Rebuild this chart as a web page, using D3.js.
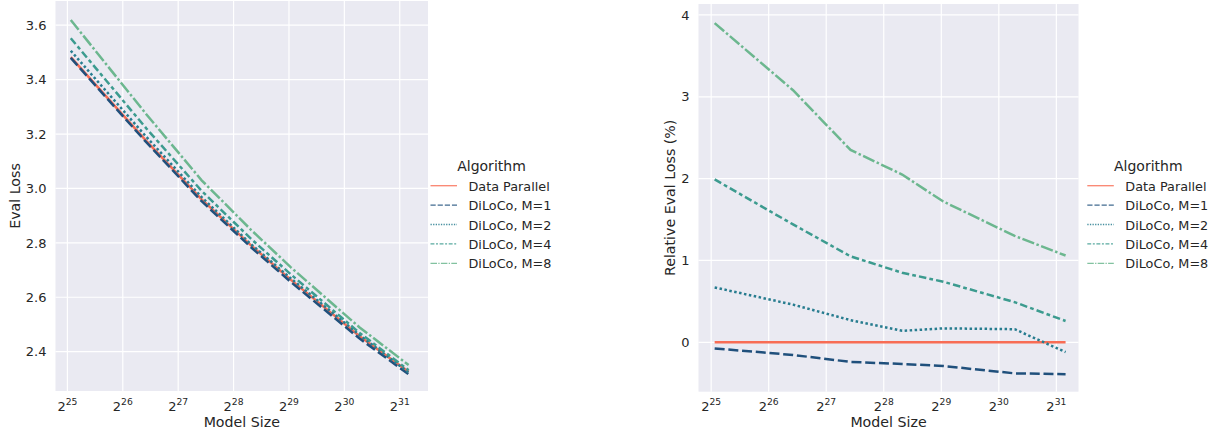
<!DOCTYPE html>
<html>
<head>
<meta charset="utf-8">
<script src="https://cdn.jsdelivr.net/npm/d3@7"></script>
<style>
  body { margin: 0; background: #fff; }
  svg { display: block; font-family: "DejaVu Sans", sans-serif; }
</style>
</head>
<body>
<svg id="chart" width="1215" height="431"></svg>
<script>
// data
const modelSizes = [35e6, 90e6, 180e6, 335e6, 550e6, 1.3e9, 2.4e9];
const seriesNames = ["Data Parallel", "DiLoCo, M=1", "DiLoCo, M=2", "DiLoCo, M=4", "DiLoCo, M=8"];

// left panel: eval loss
const lossDP = [3.483, 3.175, 2.960, 2.790, 2.664, 2.457, 2.326];
const lossM1 = [3.480, 3.170, 2.953, 2.783, 2.656, 2.448, 2.317];
const lossM2 = [3.506, 3.190, 2.968, 2.794, 2.669, 2.461, 2.323];
const lossM4 = [3.552, 3.221, 2.991, 2.814, 2.684, 2.469, 2.332];
const lossM8 = [3.619, 3.273, 3.030, 2.847, 2.710, 2.489, 2.351];

// right panel: relative eval loss (%)
const relDP = [0, 0, 0, 0, 0, 0, 0];
const relM1 = [-0.075, -0.155, -0.24, -0.265, -0.29, -0.38, -0.39];
const relM2 = [0.67, 0.46, 0.27, 0.14, 0.17, 0.16, -0.12];
const relM4 = [1.99, 1.44, 1.05, 0.85, 0.74, 0.49, 0.26];
const relM8 = [3.90, 3.08, 2.35, 2.05, 1.72, 1.30, 1.06];

const xTicks = [25, 26, 27, 28, 29, 30, 31];
const leftYTicks = [2.4, 2.6, 2.8, 3.0, 3.2, 3.4, 3.6];
const rightYTicks = [0, 1, 2, 3, 4];

// styles
const colors = ["#f86d55", "#20507c", "#277c8f", "#3c9b8f", "#6cb78f"];
const dashes = [null, [4, 1.5], [1, 1], [3, 1.25, 1.5, 1.25], [5, 1, 1, 1]];
const lw = 2.5;
const textColor = "#262626";

const svg = d3.select("#chart");

function panel(opts) {
  const { x0, x1, y0, y1, xDomain, yDomain, yTicks, yFmt, yLabel, series, legendX } = opts;

  const x = d3.scaleLog().base(2).domain(xDomain.map(d => Math.pow(2, d))).range([x0, x1]);
  const y = d3.scaleLinear().domain(yDomain).range([y1, y0]);

  const g = svg.append("g");

  g.append("rect")
    .attr("x", x0).attr("y", y0)
    .attr("width", x1 - x0).attr("height", y1 - y0)
    .attr("fill", "#eaeaf2");

  // grid
  g.selectAll(".vg").data(xTicks).enter().append("line")
    .attr("x1", d => x(Math.pow(2, d))).attr("x2", d => x(Math.pow(2, d)))
    .attr("y1", y0).attr("y2", y1)
    .attr("stroke", "#fff").attr("stroke-width", 1.2);
  g.selectAll(".hg").data(yTicks).enter().append("line")
    .attr("x1", x0).attr("x2", x1)
    .attr("y1", d => y(d)).attr("y2", d => y(d))
    .attr("stroke", "#fff").attr("stroke-width", 1.2);

  // x tick labels 2^n
  const xt = g.selectAll(".xt").data(xTicks).enter().append("text")
    .attr("x", d => x(Math.pow(2, d)))
    .attr("y", y1 + 19.5)
    .attr("text-anchor", "middle")
    .attr("fill", textColor)
    .attr("font-size", 13);
  xt.append("tspan").text("2");
  xt.append("tspan").attr("dy", -6).attr("font-size", 9.2).text(d => d);

  // y tick labels
  g.selectAll(".yt").data(yTicks).enter().append("text")
    .attr("x", x0 - 9)
    .attr("y", d => y(d))
    .attr("dy", "0.36em")
    .attr("text-anchor", "end")
    .attr("fill", textColor)
    .attr("font-size", 13)
    .text(yFmt);

  // axis labels
  g.append("text")
    .attr("x", (x0 + x1) / 2).attr("y", 426.5)
    .attr("text-anchor", "middle")
    .attr("fill", textColor).attr("font-size", 14.2)
    .text("Model Size");
  g.append("text")
    .attr("transform", `translate(${opts.yLabelX},${(y0 + y1) / 2}) rotate(-90)`)
    .attr("text-anchor", "middle")
    .attr("fill", textColor).attr("font-size", 14.2)
    .text(yLabel);

  // lines
  const line = d3.line().x(d => x(d[0])).y(d => y(d[1]));
  const plotG = g.append("g");
  series.forEach((vals, i) => {
    plotG.append("path")
      .datum(modelSizes.map((m, j) => [m, vals[j]]))
      .attr("d", line)
      .attr("fill", "none")
      .attr("stroke", colors[i])
      .attr("stroke-width", lw)
      .attr("stroke-dasharray", dashes[i] ? dashes[i].map(v => v * lw).join(",") : null);
  });

  // legend
  const lg = g.append("g");
  const lx = legendX;
  lg.append("text")
    .attr("x", lx + 61).attr("y", 171)
    .attr("text-anchor", "middle")
    .attr("fill", textColor).attr("font-size", 14)
    .text("Algorithm");
  seriesNames.forEach((name, i) => {
    const ly = 185.7 + i * 19.4;
    const llw = 1.3;
    lg.append("line")
      .attr("x1", lx).attr("x2", lx + 26.5)
      .attr("y1", ly).attr("y2", ly)
      .attr("stroke", colors[i])
      .attr("stroke-opacity", 0.85)
      .attr("stroke-width", llw)
      .attr("stroke-dasharray", dashes[i] ? dashes[i].map(v => v * llw).join(",") : null);
    lg.append("text")
      .attr("x", lx + 38).attr("y", ly + 5)
      .attr("fill", textColor).attr("font-size", 12.8)
      .text(name);
  });
}

panel({
  x0: 55.5, x1: 428, y0: 1, y1: 391,
  xDomain: [24.785, 31.51],
  yDomain: [2.2555, 3.689],
  yTicks: leftYTicks,
  yFmt: d => d.toFixed(1),
  yLabel: "Eval Loss",
  yLabelX: 20,
  series: [lossDP, lossM1, lossM2, lossM4, lossM8],
  legendX: 430.5
});

panel({
  x0: 698.5, x1: 1078.5, y0: 4, y1: 391.7,
  xDomain: [24.78, 31.385],
  yDomain: [-0.604, 4.134],
  yTicks: rightYTicks,
  yFmt: d => d3.format("d")(d),
  yLabel: "Relative Eval Loss (%)",
  yLabelX: 675,
  series: [relDP, relM1, relM2, relM4, relM8],
  legendX: 1087.3
});
</script>
</body>
</html>
